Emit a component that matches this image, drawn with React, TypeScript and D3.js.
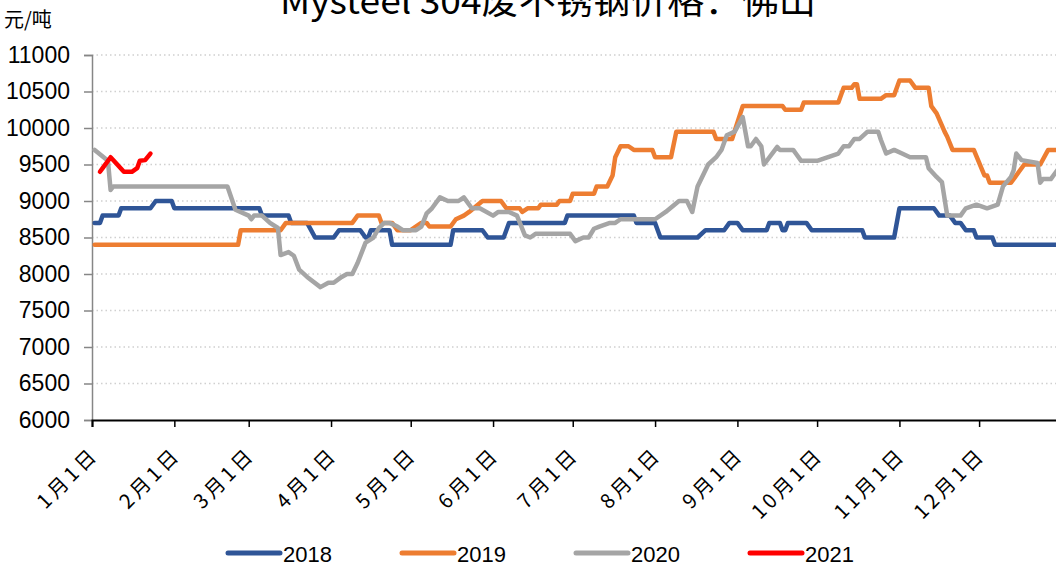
import React, { useEffect, useRef } from 'react';
import * as d3 from 'd3';

// series names + colours
const years = ['2018', '2019', '2020', '2021'];
const colors = ['#2F5597', '#ED7D31', '#A5A5A5', '#FF0000'];

// y axis ticks (元/吨)
const yTicks = [6000, 6500, 7000, 7500, 8000, 8500, 9000, 9500, 10000, 10500, 11000];

// [days after Jan 1, price]
const s2018: [number, number][] = [
  [1, 8700], [3, 8700], [4, 8800], [10, 8800], [11, 8900], [22, 8900], [24, 9000], [30, 9000],
  [31, 8900], [63, 8900], [64, 8800], [74, 8800], [75, 8700], [81, 8700], [84, 8500], [91, 8500],
  [93, 8600], [101, 8600], [103, 8500], [104, 8500], [105, 8600], [112, 8600], [113, 8400],
  [135, 8400], [136, 8600], [147, 8600], [149, 8500], [155, 8500], [157, 8700], [178, 8700],
  [179, 8800], [204, 8800], [205, 8700], [212, 8700], [214, 8500], [228, 8500], [231, 8600],
  [238, 8600], [240, 8700], [243, 8700], [245, 8600], [254, 8600], [255, 8700], [259, 8700],
  [260, 8600], [261, 8600], [262, 8700], [269, 8700], [271, 8600], [290, 8600], [291, 8500],
  [302, 8500], [304, 8900], [317, 8900], [319, 8800], [323, 8800], [325, 8700], [327, 8700],
  [329, 8600], [332, 8600], [333, 8500], [339, 8500], [340, 8400], [364, 8400],
];

const s2019: [number, number][] = [
  [1, 8400], [55, 8400], [56, 8600], [71, 8600], [73, 8700], [98, 8700], [100, 8800], [108, 8800],
  [109, 8700], [113, 8700], [115, 8600], [120, 8600], [124, 8700], [126, 8700], [127, 8650],
  [135, 8650], [137, 8750], [140, 8800], [142, 8850], [147, 9000], [154, 9000], [156, 8900],
  [161, 8900], [162, 8850], [164, 8900], [168, 8900], [169, 8950], [175, 8950], [176, 9000],
  [180, 9000], [181, 9100], [189, 9100], [190, 9200], [194, 9200], [196, 9350], [197, 9600],
  [199, 9750], [202, 9750], [204, 9700], [211, 9700], [212, 9600], [218, 9600], [220, 9950],
  [234, 9950], [235, 9850], [241, 9850], [245, 10300], [260, 10300], [261, 10250], [267, 10250],
  [268, 10350], [281, 10350], [283, 10550], [286, 10550], [287, 10600], [288, 10600], [289, 10400],
  [297, 10400], [299, 10450], [302, 10450], [304, 10650], [308, 10650], [310, 10550], [315, 10550],
  [316, 10300], [318, 10200], [321, 9950], [322, 9880], [324, 9700], [332, 9700], [336, 9350],
  [337, 9350], [338, 9250], [346, 9250], [349, 9400], [351, 9500], [357, 9500], [360, 9700],
  [364, 9700],
];

const s2020: [number, number][] = [
  [1, 9700], [6, 9550], [7, 9150], [8, 9200], [51, 9200], [54, 8880], [59, 8800], [60, 8750],
  [61, 8800], [64, 8800], [67, 8700], [70, 8630], [71, 8260], [74, 8300], [76, 8250], [78, 8060],
  [81, 7960], [86, 7820], [89, 7880], [91, 7880], [94, 7960], [96, 8000], [98, 8000], [100, 8150],
  [103, 8430], [106, 8500], [108, 8630], [110, 8700], [112, 8700], [115, 8650], [117, 8600],
  [122, 8600], [124, 8650], [126, 8830], [128, 8900], [131, 9050], [134, 9000], [138, 9000],
  [140, 9050], [143, 8900], [146, 8900], [151, 8800], [153, 8850], [157, 8850], [160, 8800],
  [163, 8530], [165, 8500], [167, 8550], [180, 8550], [182, 8450], [185, 8500], [187, 8500],
  [189, 8620], [191, 8650], [195, 8700], [197, 8700], [199, 8750], [212, 8750], [216, 8850],
  [221, 9000], [224, 9000], [226, 8850], [228, 9200], [232, 9500], [235, 9600], [237, 9700],
  [239, 9900], [242, 9950], [245, 10150], [247, 9750], [248, 9750], [250, 9850], [252, 9750],
  [253, 9500], [258, 9740], [259, 9700], [264, 9700], [265, 9650], [267, 9550], [273, 9550],
  [281, 9650], [283, 9750], [285, 9750], [287, 9850], [289, 9850], [292, 9950], [296, 9950],
  [297, 9840], [299, 9650], [302, 9700], [305, 9650], [308, 9600], [314, 9600], [315, 9450],
  [318, 9330], [320, 9260], [322, 8800], [327, 8800], [329, 8900], [333, 8950], [337, 8900],
  [341, 8950], [343, 9200], [346, 9330], [347, 9420], [348, 9650], [350, 9560], [356, 9520],
  [357, 9250], [358, 9300], [361, 9300], [364, 9450],
];

const s2021: [number, number][] = [
  [3, 9400], [4, 9450], [7, 9600], [9, 9520], [12, 9400], [15, 9400], [17, 9450], [18, 9550],
  [20, 9560], [22, 9650],
];

const series = [s2018, s2019, s2020, s2021];

const App = () => {
  const ref = useRef<SVGSVGElement>(null);

  useEffect(() => {
    const svg = d3.select(ref.current);
    svg.selectAll('*').remove();

    const left = 92;
    const top = 55;
    const bottom = 420;
    const base = new Date(2021, 0, 1);

    const x = d3.scaleTime()
      .domain([base, new Date(2021, 11, 31)])
      .range([left, left + 364 * 2.656]);
    const y = d3.scaleLinear().domain([6000, 11000]).range([bottom, top]);
    const day = (d: number) => d3.timeDay.offset(base, d);

    // title (cut at the top like the source)
    svg.append('text')
      .attr('x', 280)
      .attr('y', 14)
      .attr('textLength', 536)
      .attr('lengthAdjust', 'spacingAndGlyphs')
      .style('font-family', '"Noto Sans CJK SC", sans-serif')
      .style('font-size', '35px')
      .attr('fill', '#000')
      .text('Mysteel 304废不锈钢价格：佛山');

    svg.append('text')
      .attr('x', 4)
      .attr('y', 27)
      .style('font-family', '"Noto Sans CJK SC", sans-serif')
      .style('font-size', '20px')
      .text('元/吨');

    // gridlines
    svg.append('g')
      .selectAll('line')
      .data(yTicks.slice(1))
      .enter().append('line')
      .attr('x1', left)
      .attr('x2', 1056)
      .attr('y1', d => y(d))
      .attr('y2', d => y(d))
      .attr('stroke', '#D0D0D0')
      .attr('stroke-width', 1.5)
      .attr('stroke-dasharray', '1.5 3');

    // y axis
    const ya = svg.append('g')
      .attr('transform', `translate(${left},0)`)
      .call(d3.axisLeft(y).tickValues(yTicks).tickSize(8).tickPadding(14).tickFormat(d3.format('d')));
    ya.select('.domain').attr('stroke', '#868686').attr('stroke-width', 1.5);
    ya.selectAll('.tick line').attr('stroke', '#868686').attr('stroke-width', 1.5);
    ya.selectAll('.tick text')
      .attr('fill', '#000')
      .style('font-family', '"Liberation Sans", Arial, sans-serif')
      .style('font-size', '23px');

    // x axis
    const xa = svg.append('g')
      .attr('transform', `translate(0,${bottom})`)
      .call(d3.axisBottom(x).ticks(d3.timeMonth.every(1)).tickSize(7)
        .tickFormat(d => `${(d as Date).getMonth() + 1}月1日`));
    xa.select('.domain').attr('stroke', '#000').attr('stroke-width', 2);
    xa.selectAll('.tick line').attr('stroke', '#000').attr('stroke-width', 1.5);
    xa.selectAll('.tick text')
      .attr('fill', '#000')
      .attr('y', 0)
      .attr('dy', 0)
      .attr('transform', 'translate(7,36) rotate(-45)')
      .style('text-anchor', 'end')
      .style('letter-spacing', '3.5px')
      .style('font-family', '"Noto Sans CJK SC", sans-serif')
      .style('font-size', '20px');

    // series lines
    const line = d3.line<[number, number]>()
      .x(d => x(day(d[0])))
      .y(d => y(d[1]));

    const clip = svg.append('clipPath').attr('id', 'plot');
    clip.append('rect').attr('x', left).attr('y', 0).attr('width', 1056 - left).attr('height', bottom);

    svg.append('g')
      .attr('clip-path', 'url(#plot)')
      .selectAll('path')
      .data(series)
      .enter().append('path')
      .attr('d', d => line(d))
      .attr('fill', 'none')
      .attr('stroke', (d, i) => colors[i])
      .attr('stroke-width', 4.5)
      .attr('stroke-linejoin', 'round')
      .attr('stroke-linecap', 'round');

    // legend
    const lg = svg.append('g')
      .selectAll('g')
      .data(years)
      .enter().append('g')
      .attr('transform', (d, i) => `translate(${228 + i * 174},553)`);
    lg.append('line')
      .attr('x1', 0).attr('x2', 52)
      .attr('stroke', (d, i) => colors[i])
      .attr('stroke-width', 5)
      .attr('stroke-linecap', 'round');
    lg.append('text')
      .attr('x', 55)
      .attr('y', 9)
      .style('font-family', '"Liberation Sans", Arial, sans-serif')
      .style('font-size', '22px')
      .text(d => d);
  }, []);

  return (
    <svg ref={ref} width={1056} height={570}
      style={{ position: 'absolute', left: 0, top: 0, background: '#fff' }} />
  );
};

export default App;
